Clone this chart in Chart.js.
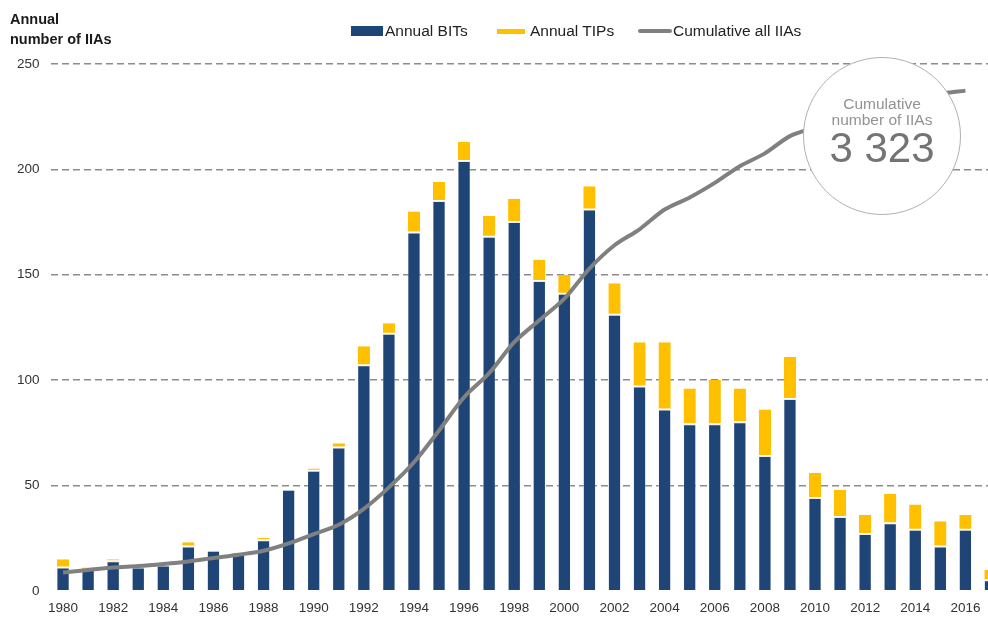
<!DOCTYPE html>
<html>
<head>
<meta charset="utf-8">
<script src="https://cdn.jsdelivr.net/npm/chart.js@4.4.1/dist/chart.umd.min.js"></script>
<style>
  html, body { margin: 0; padding: 0; background: #fff; overflow: hidden; }
  body { width: 988px; height: 617px; position: relative; font-family: "Liberation Sans", Arial, sans-serif; }
  #wrap { position: absolute; left: 0; top: 0; width: 1003px; height: 627px; }
  .title { position: absolute; left: 10px; top: 9px; font-weight: bold; font-size: 14.5px; line-height: 20px; color: #1a1a1a; }
  .legend { position: absolute; top: 21px; height: 20px; font-size: 15.5px; color: #222; }
  .legend span { position: absolute; top: 0; white-space: nowrap; line-height: 20px; }
  .legend i { position: absolute; display: block; }
  .bubble { position: absolute; left: 803px; top: 57px; width: 156px; height: 156px; border: 1px solid #b0b0b0;
            border-radius: 50%; background: #fff; text-align: center; color: #929292; }
  .bubble .s { position: absolute; left: 0; right: 0; font-size: 15.5px; line-height: 15px; white-space: nowrap; }
  .bubble .b { position: absolute; left: 0; right: 0; top: 68px; font-size: 42px; line-height: 44px; color: #747474; }
</style>
</head>
<body>
<div id="wrap"><canvas id="iia-chart" width="1003" height="627"></canvas></div>

<div class="title">Annual<br>number of IIAs</div>

<div class="legend">
  <i style="left:351px;top:5px;width:32px;height:10px;background:#1f4476"></i>
  <span style="left:385px">Annual BITs</span>
  <i style="left:497px;top:8px;width:28px;height:5px;background:#ffc000"></i>
  <span style="left:530px">Annual TIPs</span>
  <i style="left:638px;top:8px;width:34px;height:4px;background:#808080;border-radius:2px"></i>
  <span style="left:673px">Cumulative all IIAs</span>
</div>

<div class="bubble">
  <div class="s" style="top:38px">Cumulative</div>
  <div class="s" style="top:54px">number of IIAs</div>
  <div class="b">3 323</div>
</div>

<script>
// --- DATOS ---
const years = [
    '1980','1981','1982','1983','1984','1985','1986','1987','1988','1989',
    '1990','1991','1992','1993','1994','1995','1996','1997','1998','1999',
    '2000','2001','2002','2003','2004','2005','2006','2007','2008','2009',
    '2010','2011','2012','2013','2014','2015','2016','2017'
];

const annualBITs = [
    11, 10, 14, 11, 12, 21, 19, 18, 24, 48,
    57, 68, 107, 122, 170, 185, 204, 168, 175, 147,
    141, 181, 131, 97, 86, 79, 79, 80, 64, 91,
    44, 35, 27, 32, 29, 21, 29, 5
];

const annualTIPs = [
    4, 1, 1, 0, 0, 2, 0, 0, 1, 0,
    1, 2, 9, 5, 10, 9, 9, 10, 11, 10,
    9, 11, 15, 21, 32, 17, 21, 16, 22, 20,
    12, 13, 9, 14, 12, 12, 7, 5
];

// cumulative (secondary axis, not shown)
const cumulativeIIAs = [
    122, 138, 155, 164, 178, 195, 218, 240, 266, 315,
    377, 439, 544, 687, 854, 1065, 1286, 1446, 1652, 1797,
    1941, 2141, 2296, 2402, 2533, 2613, 2710, 2821, 2906, 3021,
    3077, 3125, 3161, 3204, 3247, 3300, 3323, null
];

const yTicks = [0, 50, 100, 150, 200, 250];

const colors = { bit: '#1f4476', tip: '#ffc000', line: '#808080', grid: '#8c8c8c', text: '#333' };

// --- GRAFICO ---
const ctx = document.getElementById('iia-chart').getContext('2d');
new Chart(ctx, {
    type: 'bar',
    data: {
        labels: years,
        datasets: [
            {
                type: 'line',
                label: 'Cumulative all IIAs',
                data: cumulativeIIAs,
                yAxisID: 'y1',
                borderColor: colors.line,
                borderWidth: 4,
                pointRadius: 0,
                tension: 0.3,
                fill: false,
                order: 0
            },
            {
                label: 'Annual BITs',
                data: annualBITs,
                backgroundColor: colors.bit,
                borderColor: '#e8edf4',
                borderWidth: { top: 1, left: 0.5, right: 0.5, bottom: 0 },
                borderSkipped: false,
                stack: 'iia',
                order: 1
            },
            {
                label: 'Annual TIPs',
                data: annualTIPs,
                backgroundColor: colors.tip,
                borderColor: '#ffffff',
                borderWidth: { bottom: 1, top: 0, left: 0, right: 0 },
                borderSkipped: false,
                stack: 'iia',
                order: 1
            }
        ]
    },
    options: {
        responsive: false,
        animation: false,
        layout: { padding: { left: 6, top: 64, right: 0, bottom: 2 } },
        barPercentage: 0.49,
        categoryPercentage: 1,
        plugins: { legend: { display: false }, tooltip: { enabled: false } },
        scales: {
            x: {
                stacked: true,
                grid: { display: false, drawTicks: false },
                border: { display: false },
                ticks: {
                    autoSkip: false,
                    maxRotation: 0,
                    padding: 9,
                    color: colors.text,
                    font: { family: '"Liberation Sans", Arial, sans-serif', size: 13.5 },
                    callback: function (v, i) { return (i % 2 === 0 && i < 37) ? years[i] : ''; }
                }
            },
            y: {
                stacked: true,
                min: 0,
                max: 250,
                afterBuildTicks: axis => { axis.ticks = yTicks.map(v => ({ value: v })); },
                grid: {
                    drawTicks: false,
                    color: c => (c.tick && c.tick.value === 0 ? 'rgba(0,0,0,0)' : colors.grid),
                    lineWidth: 1.5
                },
                border: { display: false, dash: [7, 4] },
                ticks: {
                    padding: 11,
                    color: colors.text,
                    font: { family: '"Liberation Sans", Arial, sans-serif', size: 13.5 }
                }
            },
            y1: {
                display: false,
                min: 0,
                max: 3500
            }
        }
    }
});
</script>
</body>
</html>
